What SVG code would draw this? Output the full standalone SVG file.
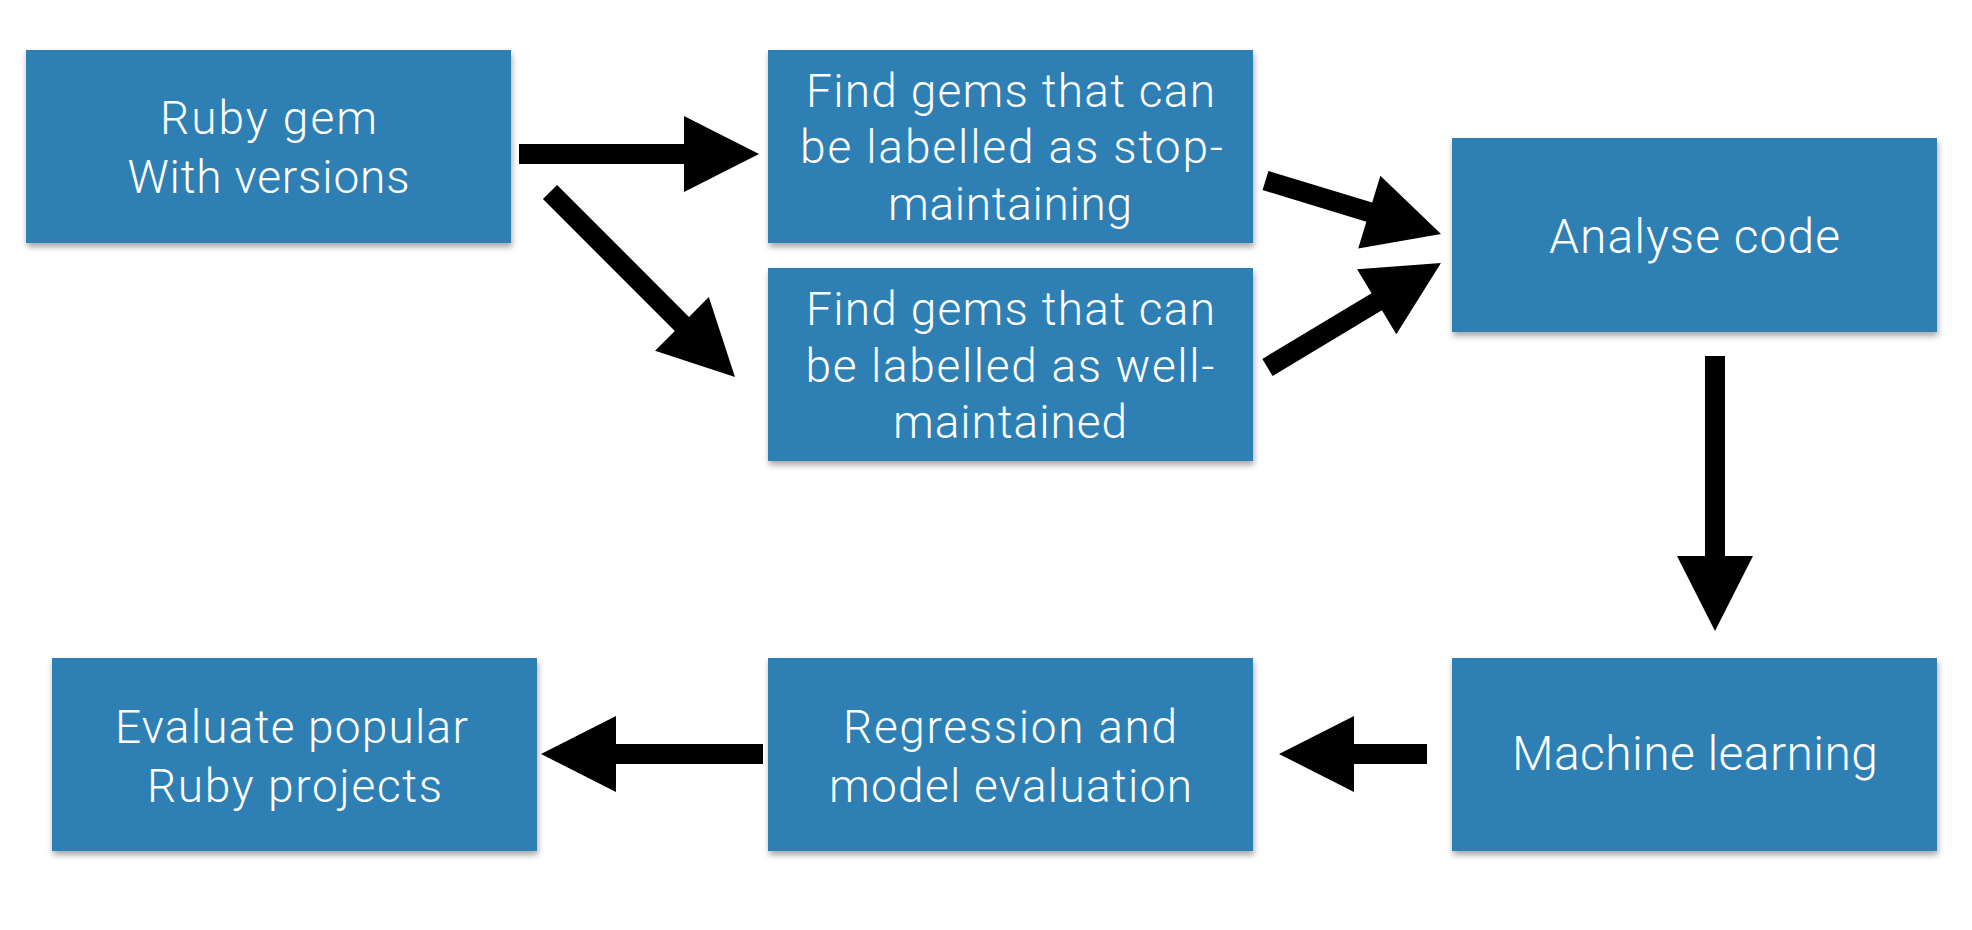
<svg xmlns="http://www.w3.org/2000/svg" width="1972" height="930" viewBox="0 0 1972 930">
<style>
.box{fill:#2f7fb4;filter:url(#sh)}
.t{font-family:Roboto,"Liberation Sans","DejaVu Sans",sans-serif;font-weight:300;font-size:46px;fill:#ffffff;text-anchor:middle}
.t2{font-size:48px}
.arr{fill:#000000}
</style>
<defs>
<filter id="sh" x="-5%" y="-5%" width="110%" height="115%">
<feDropShadow dx="1" dy="4" stdDeviation="3" flood-color="#000" flood-opacity="0.35"/>
</filter>
</defs>
<rect width="1972" height="930" fill="#ffffff"/>
<g id="node-ruby-gem">
<rect class="box" x="26" y="50" width="485" height="193"/>
<text class="t" x="268.5" y="134" textLength="217">Ruby gem</text>
<text class="t" x="268.5" y="193" textLength="282">With versions</text>
</g>
<g id="node-stop-maintaining">
<rect class="box" x="768" y="50" width="485" height="193"/>
<text class="t" x="1010.5" y="107" textLength="409">Find gems that can</text>
<text class="t" x="1011.5" y="163" textLength="423">be labelled as stop-</text>
<text class="t" x="1010" y="220" textLength="244">maintaining</text>
</g>
<g id="node-well-maintained">
<rect class="box" x="768" y="268" width="485" height="193"/>
<text class="t" x="1010.5" y="325" textLength="409">Find gems that can</text>
<text class="t" x="1010" y="382" textLength="409">be labelled as well-</text>
<text class="t" x="1010" y="438" textLength="234">maintained</text>
</g>
<g id="node-analyse-code">
<rect class="box" x="1452" y="138" width="485" height="194"/>
<text class="t t2" x="1694.5" y="253" textLength="291">Analyse code</text>
</g>
<g id="node-machine-learning">
<rect class="box" x="1452" y="658" width="485" height="193"/>
<text class="t t2" x="1695" y="770" textLength="366">Machine learning</text>
</g>
<g id="node-regression">
<rect class="box" x="768" y="658" width="485" height="193"/>
<text class="t" x="1010" y="743" textLength="334">Regression and</text>
<text class="t" x="1010.5" y="802" textLength="363">model evaluation</text>
</g>
<g id="node-evaluate">
<rect class="box" x="52" y="658" width="485" height="193"/>
<text class="t" x="291.5" y="743" textLength="353">Evaluate popular</text>
<text class="t" x="294.5" y="802" textLength="295">Ruby projects</text>
</g>
<g id="connectors">
<polygon class="arr" transform="translate(519,154)" points="0,-10 165,-10 165,-38 240,0 165,38 165,10 0,10"/>
<polygon class="arr" transform="translate(550,192) rotate(45)" points="0,-10 186.6,-10 186.6,-38 261.6,0 186.6,38 186.6,10 0,10"/>
<polygon class="arr" transform="translate(1265.5,180.5) rotate(16.95)" points="0,-10 108.5,-10 108.5,-38 183.5,0 108.5,38 108.5,10 0,10"/>
<polygon class="arr" transform="translate(1267.5,367.5) rotate(-31.06)" points="0,-10 127.5,-10 127.5,-38 202.5,0 127.5,38 127.5,10 0,10"/>
<polygon class="arr" transform="translate(1715,356) rotate(90)" points="0,-10 200,-10 200,-38 275,0 200,38 200,10 0,10"/>
<polygon class="arr" transform="translate(1427,754) rotate(180)" points="0,-10 73,-10 73,-38 148,0 73,38 73,10 0,10"/>
<polygon class="arr" transform="translate(763,754) rotate(180)" points="0,-10 147,-10 147,-38 222,0 147,38 147,10 0,10"/>
</g>
</svg>
